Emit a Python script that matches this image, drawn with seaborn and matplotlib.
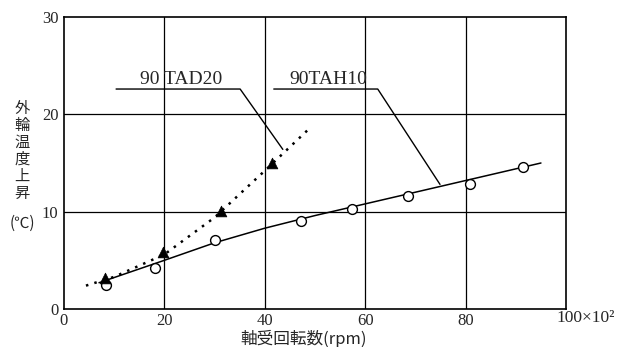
import numpy as np
import pandas as pd
import matplotlib
matplotlib.use('Agg')
import matplotlib.pyplot as plt
import seaborn as sns

sns.set_style("white")
plt.rcParams['font.family'] = ['Noto Sans CJK JP', 'DejaVu Sans']

# --- data ---
# 90TAH10 (open circles)
tah_x = [8.4, 18.1, 30.1, 47.2, 57.4, 68.5, 80.9, 91.4]
tah_y = [2.5, 4.2, 7.1, 9.0, 10.3, 11.6, 12.8, 14.6]
# fitted solid line for 90TAH10
tah_fit_x = [7, 20, 30, 40, 50, 60, 80, 95]
tah_fit_y = [2.7, 5.0, 6.8, 8.3, 9.6, 10.8, 13.2, 15.0]
# 90 TAD20 (filled triangles)
tad_x = [8.2, 19.7, 31.3, 41.4]
tad_y = [3.2, 5.9, 10.1, 15.0]
# dotted curve for 90 TAD20
tad_fit_x = [4.4, 10, 20, 30, 40, 49]
tad_fit_y = [2.4, 3.3, 5.6, 9.4, 14.2, 18.6]

x_ticks = [0, 20, 40, 60, 80, 100]
x_ticklabels = ['0', '20', '40', '60', '80', '']
y_ticks = [0, 10, 20, 30]

pts_tah = pd.DataFrame({'x': tah_x, 'y': tah_y})
pts_tad = pd.DataFrame({'x': tad_x, 'y': tad_y})
line_tah = pd.DataFrame({'x': tah_fit_x, 'y': tah_fit_y})
line_tad = pd.DataFrame({'x': tad_fit_x, 'y': tad_fit_y})

fig = plt.figure(figsize=(6.2, 3.47), dpi=100)
ax = fig.add_axes([0.103, 0.1095, 0.810, 0.8415])

# grid lines
for gx in [20, 40, 60, 80]:
    ax.axvline(gx, color='black', lw=0.9, zorder=1)
for gy in [10, 20]:
    ax.axhline(gy, color='black', lw=0.9, zorder=1)

sns.lineplot(data=line_tah, x='x', y='y', ax=ax, color='black', lw=1.1, zorder=3)
sns.lineplot(data=line_tad, x='x', y='y', ax=ax, color='black', lw=1.8,
             linestyle=(0, (1, 2.5)), zorder=3)
sns.scatterplot(data=pts_tah, x='x', y='y', ax=ax, marker='o', s=50,
                facecolor='white', edgecolor='black', linewidth=1.0, zorder=4)
sns.scatterplot(data=pts_tad, x='x', y='y', ax=ax, marker='^', s=60,
                color='black', edgecolor='black', linewidth=0.5, zorder=5)

# leader lines and labels
ax.plot([10.4, 35.1, 43.6], [22.6, 22.6, 16.4], color='black', lw=1.0, zorder=2)
ax.text(23.3, 23.6, '90 TAD20', family='Liberation Serif', fontsize=14,
        ha='center', va='center')
ax.plot([41.8, 62.5, 74.9], [22.6, 22.6, 12.8], color='black', lw=1.0, zorder=2)
ax.text(52.6, 23.6, '90TAH10', family='Liberation Serif', fontsize=14,
        ha='center', va='center')

ax.set_xlim(0, 100)
ax.set_ylim(0, 30)
ax.set_xticks(x_ticks)
ax.set_xticklabels(x_ticklabels)
ax.set_yticks(y_ticks)
ax.set_xticks([10, 30, 50, 70, 90], minor=True)
ax.set_yticks([5, 15, 25], minor=True)
ax.tick_params(axis='both', which='major', length=0, labelsize=12,
               labelfontfamily='Liberation Serif')
ax.tick_params(axis='x', which='major', pad=3)
ax.tick_params(axis='y', which='major', pad=4)
ax.tick_params(axis='both', which='minor', direction='in', length=3, width=1)
ax.set_xlabel('')
ax.set_ylabel('')
for s in ax.spines.values():
    s.set_color('black')
    s.set_linewidth(1.2)

fig.text(0.945, 0.083, '100×10²', fontsize=12.5, ha='center', va='center',
         family=['Liberation Serif', 'DejaVu Serif'])
fig.text(0.49, 0.022, '軸受回転数(rpm)', fontsize=12, ha='center', va='center')
fig.text(0.036, 0.418, '外\n輪\n温\n度\n上\n昇', fontsize=11, ha='center',
         va='bottom', linespacing=1.0)
fig.text(0.036, 0.355, '(℃)', fontsize=11, ha='center', va='center')

fig.savefig('out.png', dpi=100)
